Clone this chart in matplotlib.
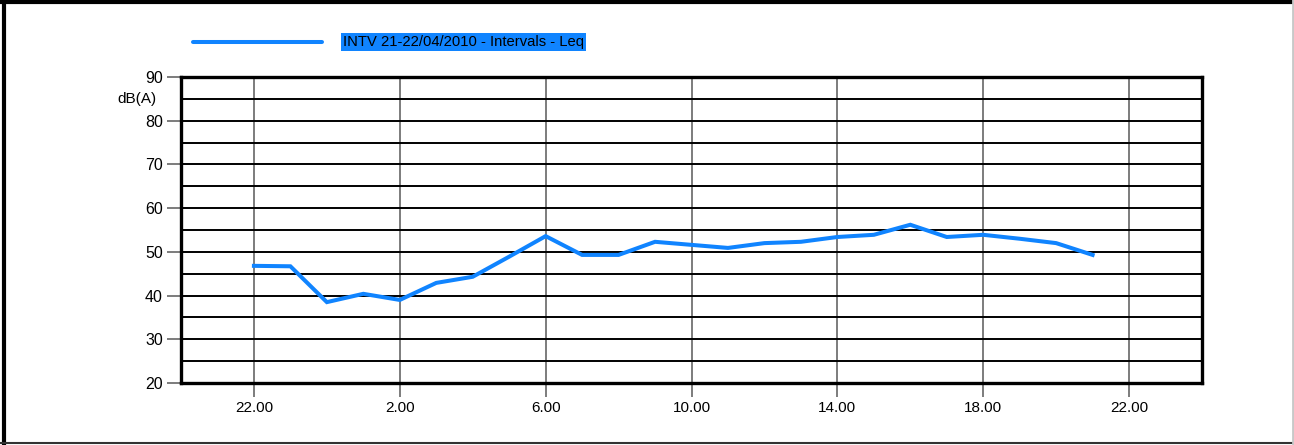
import numpy as np
import matplotlib.pyplot as plt
import matplotlib.transforms as mtransforms
from matplotlib.lines import Line2D

plt.rcParams['font.family'] = ['Liberation Sans', 'DejaVu Sans']

# hourly Leq, 22:00 on 21/04 to 21:00 on 22/04 (hours counted from midnight of day 1)
hours = list(range(22, 46))
leq = [46.8, 46.7, 38.5, 40.4, 39.0, 42.9, 44.3, 48.9, 53.6, 49.3, 49.3, 52.3,
       51.6, 50.9, 52.0, 52.3, 53.4, 53.9, 56.2, 53.4, 53.9, 53.0, 52.0, 49.3]
tick_hours = [22, 26, 30, 34, 38, 42, 46]
tick_labels = ['22.00', '2.00', '6.00', '10.00', '14.00', '18.00', '22.00']
y_ticks = [20, 30, 40, 50, 60, 70, 80, 90]
series_name = 'INTV 21-22/04/2010 - Intervals - Leq'

blue = '#1084ff'

fig = plt.figure(figsize=(12.94, 4.45), dpi=100)
ax = fig.add_axes([181/1294, 1-383/445, (1202-181)/1294, (383-77)/445])

ax.plot(hours, leq, color=blue, lw=2.9, solid_joinstyle='miter', zorder=5)

ax.set_xlim(20, 48)
ax.set_ylim(20, 90)
ax.set_xticks(tick_hours)
ax.set_xticklabels(tick_labels)
ax.set_yticks(y_ticks)
ax.set_yticks(np.arange(25, 90, 10), minor=True)

# horizontal grid black, vertical grid grey
ax.grid(axis='y', which='both', color='black', lw=1.4)
ax.grid(axis='x', which='major', color='#666666', lw=1.2)
ax.tick_params(axis='x', length=10, color='#666666', width=1.2, labelsize=11, pad=3)
ax.tick_params(axis='y', which='major', length=10, color='#666666', width=1.2, labelsize=11.5, pad=3)
ax.tick_params(axis='y', which='minor', length=0)
ax.set_axisbelow(True)
for s in ax.spines.values():
    s.set_linewidth(2.4)
    s.set_color('black')

trans = mtransforms.blended_transform_factory(ax.transAxes, ax.transData)
ax.text(-0.024, 85, 'dB(A)', transform=trans, ha='right', va='center', fontsize=11)

# legend drawn by hand to match original layout
fig.add_artist(Line2D([193/1294, 322/1294], [1-42/445, 1-42/445], color=blue, lw=2.9,
                      solid_capstyle='round'))
fig.text(343/1294, 1-42/445, series_name, ha='left', va='center', fontsize=10.6,
         bbox=dict(boxstyle='square,pad=0.12', fc=blue, ec='none'))

# outer frame
fig.add_artist(Line2D([4/1294, 4/1294], [0, 1], color='black', lw=3))
fig.add_artist(Line2D([0, 1], [1-2/445, 1-2/445], color='black', lw=3))
fig.add_artist(Line2D([0, 1], [1-443/445, 1-443/445], color='#333333', lw=1.5))
fig.add_artist(Line2D([1292.5/1294, 1292.5/1294], [0, 1], color='#c8c8c8', lw=2))

fig.savefig('out.png', dpi=100)
